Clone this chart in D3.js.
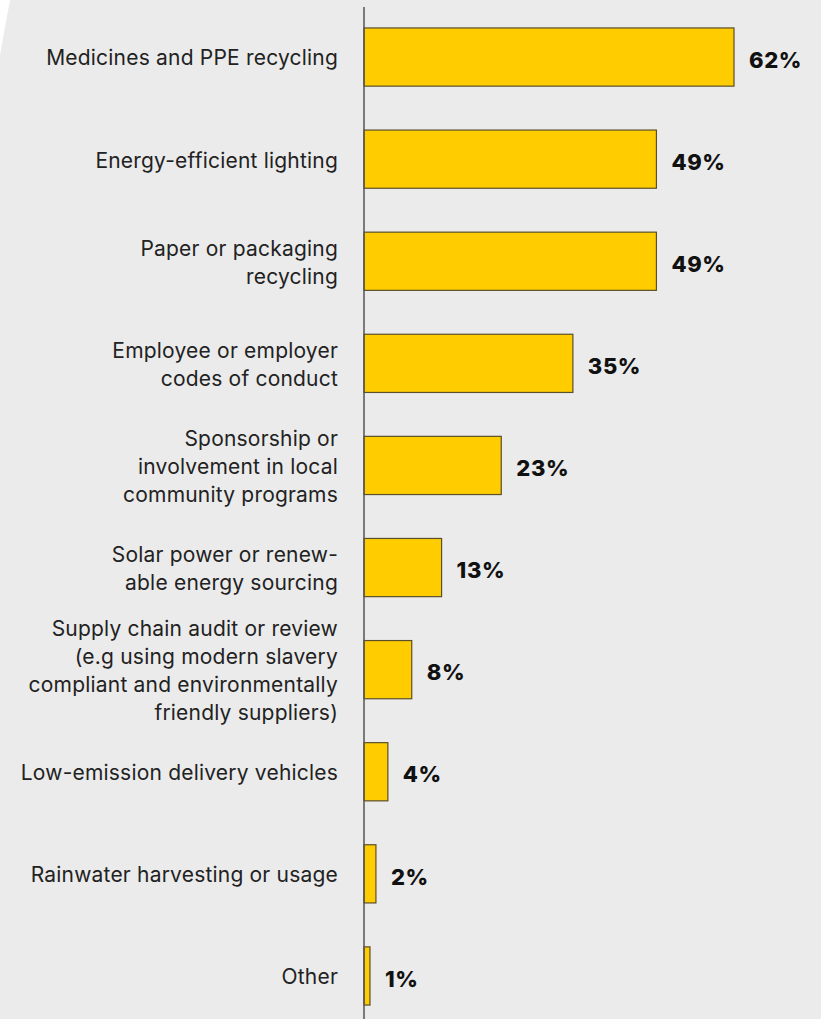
<!DOCTYPE html>
<html>
<head>
<meta charset="utf-8">
<script src="https://cdn.jsdelivr.net/npm/d3@7"></script>
<style>
  body { margin: 0; background: #ebebeb; }
  svg { display: block; }
</style>
</head>
<body>
<div id="chart"></div>
<script>
// categories (each entry is the label split into lines)
var categories = [
    ["Medicines and PPE recycling"],
    ["Energy-efficient lighting"],
    ["Paper or packaging", "recycling"],
    ["Employee or employer", "codes of conduct"],
    ["Sponsorship or", "involvement in local", "community programs"],
    ["Solar power or renew-", "able energy sourcing"],
    ["Supply chain audit or review", "(e.g using modern slavery", "compliant and environmentally", "friendly suppliers)"],
    ["Low-emission delivery vehicles"],
    ["Rainwater harvesting or usage"],
    ["Other"]
];
var values = [62, 49, 49, 35, 23, 13, 8, 4, 2, 1];
var valueLabels = ["62%", "49%", "49%", "35%", "23%", "13%", "8%", "4%", "2%", "1%"];

var width = 821, height = 1019;
var x0 = 364;

var svg = d3.select("#chart").append("svg")
    .attr("width", width)
    .attr("height", height);

svg.append("rect")
    .attr("width", width).attr("height", height)
    .attr("fill", "#ebebeb");

// white corner wedge
svg.append("path")
    .attr("d", "M0,0L10,0L0,55Z")
    .attr("fill", "#ffffff");

var idx = d3.range(values.length);

var x = d3.scaleLinear()
    .domain([0, 62])
    .range([x0, 734]);

var y = d3.scaleBand()
    .domain(idx)
    .range([6, 1027])
    .paddingInner(0.43)
    .paddingOuter(0.215);

// bars
svg.append("g")
    .selectAll("rect")
    .data(idx)
    .enter().append("rect")
    .attr("x", x(0))
    .attr("y", function(i) { return y(i); })
    .attr("width", function(i) { return x(values[i]) - x(0); })
    .attr("height", y.bandwidth())
    .attr("fill", "#ffcc00")
    .attr("stroke", "#5a4f2a")
    .attr("stroke-width", 1.2);

// axis line
svg.append("line")
    .attr("x1", x0).attr("x2", x0)
    .attr("y1", 7).attr("y2", height)
    .attr("stroke", "#555")
    .attr("stroke-width", 1.5);

// category labels
var lineH = 28;
var labels = svg.append("g")
    .selectAll("text")
    .data(idx)
    .enter().append("text")
    .attr("text-anchor", "end")
    .attr("font-family", "Inter, sans-serif")
    .attr("font-size", 21)
    .attr("letter-spacing", 0.2)
    .attr("fill", "#222");

labels.each(function(i) {
    var lines = categories[i];
    var cy = y(i) + y.bandwidth() / 2 + 1;
    var top = cy - (lines.length - 1) * lineH / 2;
    d3.select(this).selectAll("tspan")
        .data(lines)
        .enter().append("tspan")
        .attr("x", 338)
        .attr("y", function(d, k) { return top + k * lineH; })
        .attr("dy", "0.35em")
        .text(function(d) { return d; });
});

// value labels
svg.append("g")
    .selectAll("text")
    .data(idx)
    .enter().append("text")
    .attr("x", function(i) { return x(values[i]) + 15; })
    .attr("y", function(i) { return y(i) + y.bandwidth() / 2 + 3; })
    .attr("dy", "0.35em")
    .attr("font-family", "Inter, sans-serif")
    .attr("font-weight", 800)
    .attr("font-size", 22)
    .attr("letter-spacing", 0.6)
    .attr("fill", "#111")
    .text(function(i) { return valueLabels[i]; });
</script>
</body>
</html>
